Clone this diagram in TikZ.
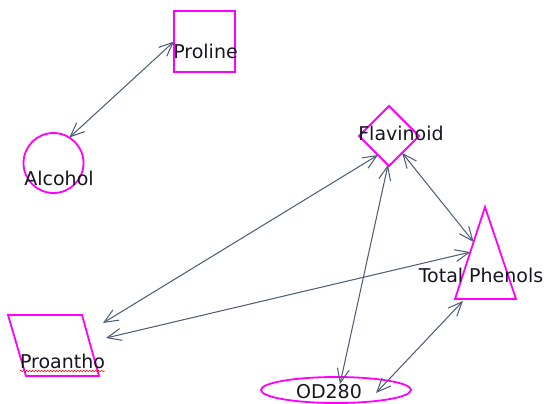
\documentclass[tikz,border=0pt]{standalone}
\usepackage{fontspec}
\setmainfont{DejaVu Sans}
\usetikzlibrary{shapes.geometric,arrows.meta,calc,decorations.pathmorphing}
\definecolor{magn}{HTML}{FF00FF}
\definecolor{edgecol}{HTML}{4F5E76}
\definecolor{txt}{HTML}{16161E}
\begin{document}
\begin{tikzpicture}[x=1pt,y=-1pt,
  shp/.style={draw=magn,line width=1.8pt,inner sep=0pt,outer sep=0pt},
  lbl/.style={text=txt,font=\fontsize{19}{21}\selectfont,inner sep=0pt,anchor=base},
  link/.style={draw=edgecol,line width=1.05pt,
    {Straight Barb[length=14pt,width=12pt]}-{Straight Barb[length=14pt,width=12pt]}}]
\useasboundingbox (0,0) rectangle (546,404);
% shapes
\node[shp,rectangle,minimum width=61pt,minimum height=61pt] (proline) at (204.5,41.5) {};
\node[shp,circle,minimum size=60pt] (alcohol) at (53.5,163) {};
\node[shp,diamond,minimum width=60pt,minimum height=60pt] (flav) at (389,136) {};
\node[shp,ellipse,minimum width=150pt,minimum height=26pt] (od) at (336,390) {};
\coordinate (tpA) at (485,207);
\coordinate (tpL) at (455,299);
\coordinate (tpR) at (516,299);
\draw[shp,line join=miter] (tpA) -- (tpL) -- (tpR) -- cycle;
\coordinate (paTL) at (8,315);
\coordinate (paTR) at (82,315);
\coordinate (paBR) at (99,376);
\coordinate (paBL) at (26,376);
\draw[shp,line join=miter] (paTL) -- (paTR) -- (paBR) -- (paBL) -- cycle;
% labels
\node[lbl] (lproline) at (205.5,59) {Proline};
\node[lbl] (lalcohol) at (59,185) {Alcohol};
\node[lbl] (lflav) at (401,140) {Flavinoid};
\node[lbl] (ltp) at (481,282) {Total Phenols};
\node[lbl] (lpa) at (62.5,368) {Proantho};
\node[lbl] (lod) at (329,398) {OD280};
\draw[red,line width=0.5pt,decorate,decoration={snake,amplitude=0.8pt,segment length=3pt}]
  ($(lpa.base west)+(0,3)$) -- ($(lpa.base east)+(0,3)$);
% connectors
\path[link] (proline.west) -- (alcohol.58);
\path[link] (flav.-120) -- ($(paTR)+(21,8)$);
\path[link] (flav.-92) -- ($(od.center)+(4,-6)$);
\path[link] (flav.-52) -- ($(tpA)!0.38!(tpL)$);
\path[link] ($(tpA)!0.49!(tpL)$) -- ($(paTR)+(24,23)$);
\path[link] ($(tpL)+(8,2)$) -- ($(od.center)+(40,3)$);
\end{tikzpicture}
\end{document}
